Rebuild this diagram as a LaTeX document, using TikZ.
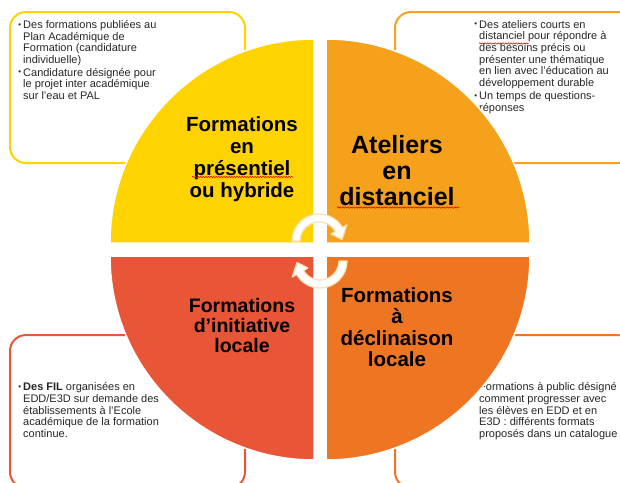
\documentclass[tikz,border=0pt]{standalone}
\usepackage{fontspec}
\setmainfont{Liberation Sans}
\usetikzlibrary{decorations.pathmorphing}
\definecolor{cyel}{HTML}{FFD300}
\definecolor{corg}{HTML}{F6A11B}
\definecolor{cred}{HTML}{E95537}
\definecolor{cora}{HTML}{EE7623}
\definecolor{carrow}{HTML}{FBE3B5}
\newcommand\mybul{\llap{\raisebox{1.2pt}{\fontsize{8}{8}\selectfont •}\hspace{2pt}}}
\begin{document}
\begin{tikzpicture}[x=1pt,y=-1pt,
  box/.style={line width=2pt, rounded corners=16pt},
  small/.style={inner sep=0pt, anchor=north west, align=left, font=\fontsize{11}{11.7}\selectfont, text=black!85},
  title/.style={inner sep=0pt, anchor=north, align=center},
  quad/.style={draw=white, line width=1.5pt},
  rot/.style={fill=white, draw=carrow, line width=1.3pt, line join=round},
  spell/.style={draw=red!85!black, line width=0.5pt, decorate, decoration={snake, amplitude=0.7pt, segment length=2.6pt}}]
\useasboundingbox (0,0) rectangle (620,482);
\clip (0,0) rectangle (620,482);
% text boxes
\draw[box, cyel] (10,12) rectangle (245,163);
\draw[box, corg] (395,12) rectangle (633,163);
\draw[box, cred] (10,335) rectangle (245,488);
\draw[box, cora] (395,335) rectangle (633,488);
\node[small] (tltext) at (23,20) {\mybul Des formations publiées au\\ Plan Académique de\\ Formation (candidature\\ individuelle)\\[1pt] \mybul Candidature désignée pour\\ le projet inter académique\\ sur l’eau et PAL};
\node[small] (trtext) at (479,20) {\mybul Des ateliers courts en\\ distanciel pour répondre à\\ des besoins précis ou\\ présenter une thématique\\ en lien avec l’éducation au\\ développement durable\\[1.5pt] \mybul Un temps de questions-\\ réponses};
\node[small] (bltext) at (23,382.5) {\mybul \textbf{Des FIL} organisées en\\ EDD/E3D sur demande des\\ établissements à l’Ecole\\ académique de la formation\\ continue.};
\node[small] (brtext) at (479,382.5) {Formations à public désigné\\ comment progresser avec\\ les élèves en EDD et en\\ E3D : différents formats\\ proposés dans un catalogue};
% pie quadrants
\filldraw[quad, fill=cyel] (314,243) -- (110,243) arc[start angle=180, end angle=270, radius=204] -- cycle;
\filldraw[quad, fill=corg] (326,243) -- (326,39) arc[start angle=270, end angle=360, radius=204] -- cycle;
\filldraw[quad, fill=cred] (314,256) -- (110,256) arc[start angle=180, end angle=90, radius=204] -- cycle;
\filldraw[quad, fill=cora] (326,256) -- (530,256) arc[start angle=0, end angle=90, radius=204] -- cycle;
% titles
\node[title, font=\bfseries\fontsize{20.5}{22}\selectfont] (t1) at (242,116) {Formations\\en\\présentiel\\ou hybride};
\node[title, font=\bfseries\fontsize{25}{26}\selectfont] (t2) at (397,135.5) {Ateliers\\en\\distanciel};
\node[title, font=\bfseries\fontsize{19.5}{20}\selectfont] (t3) at (242,298) {Formations\\d’initiative\\locale};
\node[title, font=\bfseries\fontsize{20.5}{21.5}\selectfont] (t4) at (397,287) {Formations\\à\\déclinaison\\locale};
% rotation arrows
\begin{scope}[shift={(319,241)}]
\draw[rot] (180:27) arc[start angle=180, end angle=330, radius=27] -- (330:32) -- (356:23) -- (330:14) -- (330:19) arc[start angle=330, end angle=180, radius=19] -- cycle;
\end{scope}
\begin{scope}[shift={(320,261)}, rotate=180]
\draw[rot] (180:27) arc[start angle=180, end angle=330, radius=27] -- (330:32) -- (356:23) -- (330:14) -- (330:19) arc[start angle=330, end angle=180, radius=19] -- cycle;
\end{scope}
% spell-check underlines
\draw[spell] (192,177) -- (293,177);
\draw[spell] (337,207.5) -- (459,207.5);
\draw[spell] (479,43.5) -- (529,43.5);
\end{tikzpicture}
\end{document}
